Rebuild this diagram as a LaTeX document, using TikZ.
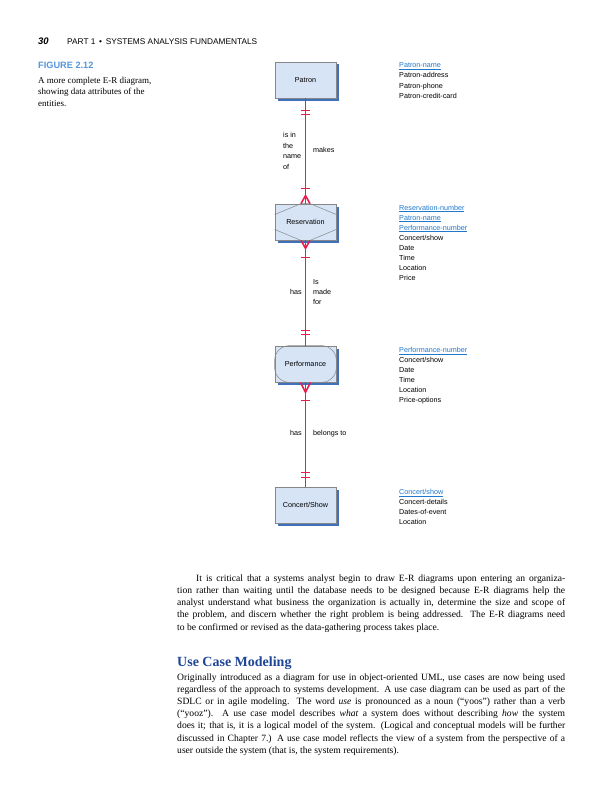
\documentclass[tikz,border=0pt]{standalone}
\usepackage{fontspec}
\setmainfont{Liberation Serif}
\newfontfamily\hsans{Liberation Sans}
\usetikzlibrary{shadows,calc}
\definecolor{erred}{RGB}{232,30,78}
\definecolor{boxfill}{RGB}{214,228,246}
\definecolor{boxshadow}{RGB}{62,112,188}
\definecolor{boxdraw}{RGB}{135,135,135}
\definecolor{keyblue}{RGB}{30,120,205}
\definecolor{figblue}{RGB}{85,150,220}
\definecolor{headblue}{RGB}{30,70,150}
\newcommand\keyattr[1]{\textcolor{keyblue}{\underline{#1}}}
\tikzset{
  entity/.style={draw=boxdraw, line width=0.8pt, fill=boxfill, minimum width=61pt, minimum height=36pt, inner sep=0pt,
    font=\hsans\fontsize{7.2}{8}\selectfont,
    general shadow={fill=boxshadow, shadow xshift=2.5pt, shadow yshift=-2.5pt}},
  innerline/.style={draw=boxdraw, line width=0.5pt},
  rel/.style={draw=erred, line width=1.6pt},
  lbl/.style={anchor=base west, inner sep=0pt, font=\hsans\fontsize{7.2}{8}\selectfont},
  attr/.style={anchor=base west, inner sep=0pt, font=\hsans\fontsize{7.2}{8}\selectfont},
  body/.style={anchor=base west, inner sep=0pt, font=\fontsize{9.6}{12}\selectfont},
}
\begin{document}
\begin{tikzpicture}[x=1pt,y=-1pt]
\useasboundingbox (0,0) rectangle (600,800);
\fill[white] (0,0) rectangle (600,800);

% header
\node[anchor=base west, inner sep=0pt, font=\hsans\bfseries\itshape\fontsize{9.5}{11}\selectfont] (pgno) at (38,44.5) {30};
\node[anchor=base west, inner sep=0pt, font=\hsans\fontsize{8.3}{10}\selectfont] (runhead) at (67,44.5) {PART 1 \,•\, SYSTEMS ANALYSIS FUNDAMENTALS};

% figure caption
\node[anchor=base west, inner sep=0pt, font=\hsans\bfseries\fontsize{9.2}{11}\selectfont, text=figblue] (figno) at (38,68.5) {FIGURE 2.12};
\node[anchor=base west, inner sep=0pt, font=\fontsize{9}{11}\selectfont] (cap1) at (38,83) {A more complete E-R diagram,};
\node[anchor=base west, inner sep=0pt, font=\fontsize{9}{11}\selectfont] (cap2) at (38,94.5) {showing data attributes of the};
\node[anchor=base west, inner sep=0pt, font=\fontsize{9}{11}\selectfont] (cap3) at (38,106) {entities.};

% entities
\node[entity] (pat) at (305.5,80) {Patron};
\node[entity] (res) at (305.5,222) {Reservation};
\node[entity] (perf) at (305.5,364) {Performance};
\node[entity] (conc) at (305.5,505) {Concert/Show};

% associative entity hexagon
\draw[innerline] ($(res.north west)+(0,11)$) -- ([xshift=-4.5pt]res.north) -- ([xshift=4.5pt]res.north) -- ($(res.north east)+(0,11)$)
  ($(res.south east)+(0,-11)$) -- ([xshift=4.5pt]res.south) -- ([xshift=-4.5pt]res.south) -- ($(res.south west)+(0,-11)$);
% attributive entity rounded shape
\draw[innerline, rounded corners=15pt] (perf.north west) rectangle (perf.south east);

% relationships
\draw[rel] (pat.south) -- (res.north);
\draw[rel] ([xshift=-4.5pt,yshift=-12pt]pat.south) -- ++(9,0);
\draw[rel] ([xshift=-4.5pt,yshift=-16pt]pat.south) -- ++(9,0);
\draw[rel] ([xshift=-4.5pt,yshift=15pt]res.north) -- ++(9,0);
\draw[rel] ([xshift=-4.5pt]res.north) -- ([yshift=8pt]res.north) -- ([xshift=4.5pt]res.north);

\draw[rel] (res.south) -- (perf.north);
\draw[rel] ([xshift=-4.5pt]res.south) -- ([yshift=-8pt]res.south) -- ([xshift=4.5pt]res.south);
\draw[rel] ([xshift=-4.5pt,yshift=-17pt]res.south) -- ++(9,0);
\draw[rel] ([xshift=-4.5pt,yshift=15pt]perf.north) -- ++(9,0);
\draw[rel] ([xshift=-4.5pt,yshift=11pt]perf.north) -- ++(9,0);

\draw[rel] (perf.south) -- (conc.north);
\draw[rel] ([xshift=-5pt]perf.south) -- ([yshift=-10pt]perf.south) -- ([xshift=5pt]perf.south);
\draw[rel] ([xshift=-4.5pt,yshift=-18pt]perf.south) -- ++(9,0);
\draw[rel] ([xshift=-4.5pt,yshift=14pt]conc.north) -- ++(9,0);
\draw[rel] ([xshift=-4.5pt,yshift=9pt]conc.north) -- ++(9,0);

% relationship labels
\node[lbl] (l1a) at (283,137.5) {is in};
\node[lbl] (l1b) at (283,148) {the};
\node[lbl] (l1c) at (283,158.5) {name};
\node[lbl] (l1d) at (283,169) {of};
\node[lbl] (l2) at (313,152.5) {makes};
\node[lbl] (l3) at (290,294.5) {has};
\node[lbl] (l4a) at (313,284.5) {Is};
\node[lbl] (l4b) at (313,294.5) {made};
\node[lbl] (l4c) at (313,304.5) {for};
\node[lbl] (l5) at (290,435.5) {has};
\node[lbl] (l6) at (313,435.5) {belongs to};

% attributes
\foreach \t [count=\i] in {\keyattr{Patron-name},Patron-address,Patron-phone,Patron-credit-card}
  \node[attr] (pa\i) at (399,{57.2+10.3*\i}) {\t};
\foreach \t [count=\i] in {\keyattr{Reservation-number},\keyattr{Patron-name},\keyattr{Performance-number},Concert/show,Date,Time,Location,Price}
  \node[attr] (ra\i) at (399,{200.2+10*\i}) {\t};
\foreach \t [count=\i] in {\keyattr{Performance-number},Concert/show,Date,Time,Location,Price-options}
  \node[attr] (fa\i) at (399,{342.5+10*\i}) {\t};
\foreach \t [count=\i] in {\keyattr{Concert/show},Concert-details,Dates-of-event,Location}
  \node[attr] (ca\i) at (399,{484.5+10*\i}) {\t};

% body text
\node[body] (p1a) at (196,581) {\makebox[369pt][s]{It is critical that a systems analyst begin to draw E-R diagrams upon entering an organiza-}};
\node[body] (p1b) at (177,593.3) {\makebox[388pt][s]{tion rather than waiting until the database needs to be designed because E-R diagrams help the}};
\node[body] (p1c) at (177,605.6) {\makebox[388pt][s]{analyst understand what business the organization is actually in, determine the size and scope of}};
\node[body] (p1d) at (177,617.9) {\makebox[388pt][s]{the problem, and discern whether the right problem is being addressed. The E-R diagrams need}};
\node[body] (p1e) at (177,630.2) {to be confirmed or revised as the data-gathering process takes place.};

\node[anchor=base west, inner sep=0pt, font=\bfseries\fontsize{14}{16}\selectfont, text=headblue] (h2) at (177,666) {Use Case Modeling};

\node[body] (p2a) at (177,680.5) {\makebox[388pt][s]{Originally introduced as a diagram for use in object-oriented UML, use cases are now being used}};
\node[body] (p2b) at (177,692.6) {\makebox[388pt][s]{regardless of the approach to systems development. A use case diagram can be used as part of the}};
\node[body] (p2c) at (177,704.7) {\makebox[388pt][s]{SDLC or in agile modeling. The word \textit{use} is pronounced as a noun (“yoos”) rather than a verb}};
\node[body] (p2d) at (177,716.8) {\makebox[388pt][s]{(“yooz”). A use case model describes \textit{what} a system does without describing \textit{how} the system}};
\node[body] (p2e) at (177,728.9) {\makebox[388pt][s]{does it; that is, it is a logical model of the system. (Logical and conceptual models will be further}};
\node[body] (p2f) at (177,741) {\makebox[388pt][s]{discussed in Chapter 7.) A use case model reflects the view of a system from the perspective of a}};
\node[body] (p2g) at (177,753.1) {user outside the system (that is, the system requirements).};
\end{tikzpicture}
\end{document}
